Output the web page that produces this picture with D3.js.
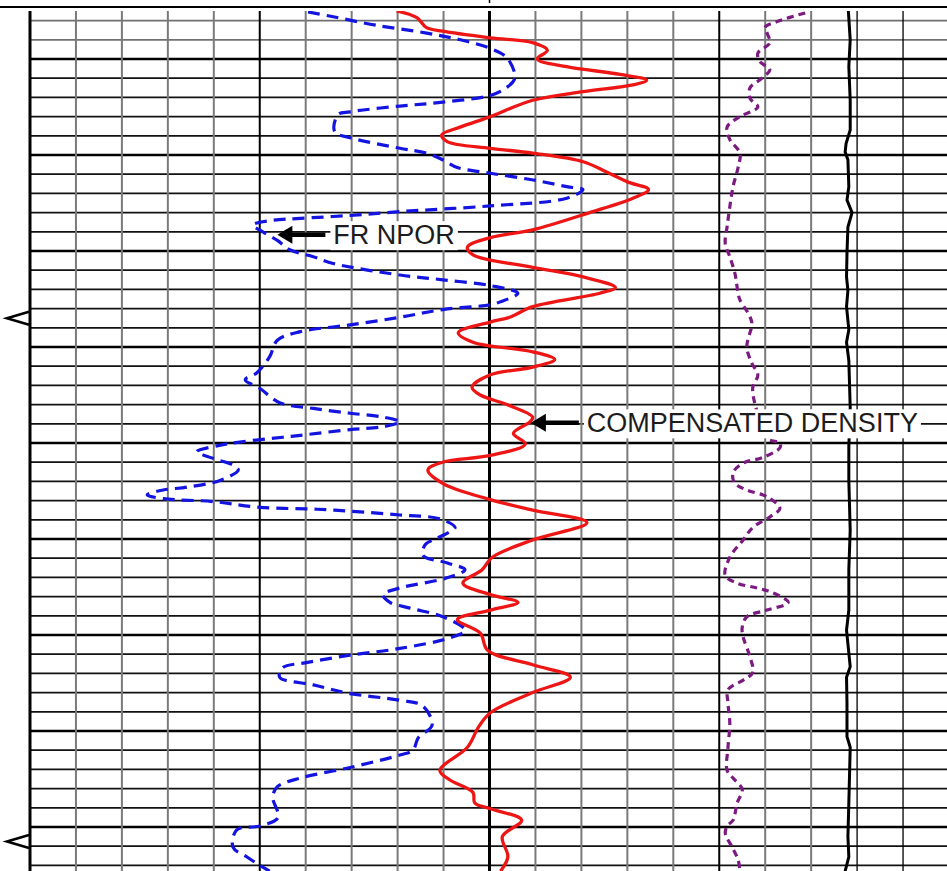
<!DOCTYPE html>
<html lang="en">
  <head>
    <meta charset="utf-8">
    <title>Log section - FR NPOR / Compensated density</title>
    <style>
      body {
        margin: 0;
        background: #fff;
        font-family: "Liberation Sans", Arial, Helvetica, sans-serif;
      }
      svg { display: block; }
    </style>
  </head>
  <body>
    <div class="graph"></div>

    <script src="https://d3js.org/d3.v7.min.js"></script>
    <script>
      // depth (ft), value pairs
      var nporCurve = [
        [4995.1, 8.7], [4995.6, 5.4], [4996.5, -0.3], [4997.3, -6.8], [4998.0, -11.2], [4998.9, -15.1],
        [4999.9, -17.3], [5002.0, -18.3], [5003.2, -16.8], [5003.8, -15.1], [5004.5, -8.9], [5004.9, -3.3],
        [5005.5, 3.2], [5005.8, 4.8], [5007.6, 5.2], [5008.2, 3.2], [5009.3, -3.3], [5009.8, -6.8],
        [5010.5, -8.9], [5011.3, -10.8], [5011.9, -15.1], [5012.6, -20.7], [5013.3, -25.1], [5013.6, -27.2],
        [5014.5, -25.1], [5015.3, -15.1], [5015.9, -3.3], [5016.3, 3.2], [5016.6, 9.7], [5016.8, 13.3],
        [5017.3, 15.9], [5018.0, 14.6], [5018.9, 12.7], [5019.9, 11.0], [5020.6, 8.0], [5021.3, 5.4],
        [5022.5, -3.3], [5023.0, -8.9], [5023.6, -15.1], [5024.4, -18.7], [5025.3, -16.4], [5025.6, -15.1],
        [5026.1, -8.9], [5026.9, -3.3], [5027.7, 3.2], [5028.4, 9.7], [5029.3, 12.7], [5031.0, 13.7],
        [5032.7, 15.4], [5033.4, 16.9], [5034.3, 15.0], [5035.8, 12.4], [5036.4, 8.0], [5036.9, 3.2],
        [5037.3, -1.1], [5037.8, -3.3], [5038.3, -1.1], [5038.6, 3.2], [5039.2, 9.7], [5039.4, 12.0],
        [5039.9, 17.6], [5040.3, 20.6], [5040.9, 23.2], [5041.6, 21.1], [5042.3, 18.5], [5042.8, 17.8],
        [5043.9, 20.2], [5044.6, 24.5], [5044.9, 27.6], [5045.4, 29.7], [5045.8, 27.6], [5046.1, 21.1],
        [5046.7, 15.0], [5046.9, 7.5], [5047.1, 3.2], [5047.5, -3.3], [5047.9, -8.5], [5048.8, -10.5],
        [5049.4, -9.5], [5050.1, -7.6], [5050.6, -6.6], [5051.7, -6.3], [5052.5, -9.5], [5053.2, -11.8],
        [5054.1, -9.2], [5055.1, -3.3], [5055.8, -1.1], [5056.6, -2.0], [5057.2, -4.6], [5058.1, -8.9],
        [5059.5, -11.8], [5060.3, -9.8], [5061.4, -3.3], [5062.1, 3.2], [5062.9, 9.1], [5063.4, 12.0],
        [5064.4, 12.4], [5065.2, 8.0], [5066.1, 3.2], [5066.8, -3.3], [5067.4, -6.3], [5069.4, -7.5],
        [5070.7, -5.7], [5072.0, -5.0], [5072.5, -3.3], [5073.8, 3.2], [5074.9, 9.7], [5075.8, 12.7],
        [5076.9, 13.3], [5079.0, 12.6], [5079.9, 15.0], [5080.3, 18.0], [5082.1, 18.5], [5083.1, 16.7],
        [5084.0, 15.0], [5084.6, 13.7]
      ];

      var rhobCurve = [
        [4995.0, 2.049], [4995.7, 2.071], [4996.7, 2.081], [4997.1, 2.099], [4997.8, 2.151], [4998.3, 2.197],
        [4999.1, 2.213], [5000.0, 2.202], [5000.8, 2.234], [5001.6, 2.292], [5002.2, 2.321], [5002.7, 2.306],
        [5003.4, 2.252], [5004.3, 2.197], [5006.0, 2.151], [5007.1, 2.118], [5007.9, 2.098], [5008.6, 2.104],
        [5009.3, 2.151], [5009.8, 2.197], [5010.7, 2.252], [5011.8, 2.278], [5012.8, 2.300], [5013.6, 2.323],
        [5014.5, 2.306], [5016.0, 2.259], [5017.8, 2.197], [5018.6, 2.151], [5019.6, 2.126], [5020.4, 2.132],
        [5021.7, 2.197], [5022.7, 2.252], [5023.8, 2.287], [5024.4, 2.270], [5025.8, 2.197], [5026.9, 2.172],
        [5027.4, 2.151], [5028.5, 2.116], [5029.5, 2.132], [5030.5, 2.197], [5031.3, 2.221], [5032.1, 2.197],
        [5032.9, 2.151], [5034.2, 2.131], [5035.0, 2.140], [5036.0, 2.169], [5037.3, 2.197], [5037.8, 2.194],
        [5039.0, 2.176], [5040.1, 2.189], [5041.3, 2.151], [5042.0, 2.099], [5042.8, 2.083], [5044.2, 2.099],
        [5045.9, 2.151], [5047.0, 2.197], [5048.3, 2.256], [5050.1, 2.197], [5051.9, 2.153], [5053.2, 2.142],
        [5054.6, 2.121], [5055.8, 2.151], [5056.6, 2.181], [5057.4, 2.151], [5058.4, 2.115], [5059.8, 2.140],
        [5061.6, 2.148], [5063.1, 2.197], [5064.4, 2.238], [5066.0, 2.197], [5068.1, 2.151], [5069.6, 2.138],
        [5071.7, 2.126], [5074.1, 2.096], [5075.1, 2.107], [5076.4, 2.132], [5077.5, 2.134], [5078.1, 2.151],
        [5079.3, 2.185], [5081.0, 2.164], [5083.1, 2.170], [5084.6, 2.162]
      ];

      var pefCurve = [
        [4995.2, 6.87], [4996.1, 6.26], [4996.7, 6.00], [4997.3, 6.04], [4998.3, 6.10], [4999.4, 5.84],
        [5000.3, 5.89], [5001.1, 6.10], [5002.0, 5.93], [5003.0, 5.67], [5004.1, 5.67], [5005.0, 5.84],
        [5006.0, 5.45], [5007.1, 5.17], [5008.4, 5.23], [5009.8, 5.45], [5011.3, 5.41], [5013.3, 5.30],
        [5015.4, 5.23], [5017.5, 5.17], [5019.2, 5.13], [5020.6, 5.23], [5022.3, 5.34], [5024.4, 5.41],
        [5025.1, 5.45], [5026.5, 5.63], [5027.5, 5.71], [5030.0, 5.60], [5031.7, 5.71], [5032.9, 5.84],
        [5034.2, 5.73], [5036.0, 5.78], [5038.1, 5.93], [5039.6, 6.06], [5040.0, 6.32], [5040.5, 6.32],
        [5041.5, 5.95], [5042.1, 5.52], [5043.1, 5.30], [5044.2, 5.34], [5044.9, 5.60], [5045.6, 6.04],
        [5046.8, 6.32], [5047.7, 6.10], [5048.8, 5.73], [5050.1, 5.52], [5051.9, 5.23], [5053.8, 5.13],
        [5054.6, 5.39], [5055.1, 5.82], [5055.6, 6.17], [5056.6, 6.50], [5057.4, 6.04], [5058.1, 5.60],
        [5059.2, 5.50], [5060.2, 5.52], [5062.3, 5.67], [5063.9, 5.73], [5064.7, 5.52], [5065.7, 5.19],
        [5067.1, 5.19], [5069.2, 5.23], [5071.7, 5.19], [5074.1, 5.17], [5074.9, 5.30], [5076.1, 5.50],
        [5077.5, 5.39], [5079.3, 5.30], [5079.8, 5.19], [5080.6, 5.13], [5082.1, 5.28], [5083.4, 5.41],
        [5084.6, 5.45]
      ];

      var caliCurve = [
        [4995.0, 13.81], [4998.0, 13.85], [5000.8, 13.82], [5004.3, 13.85], [5007.4, 13.85], [5008.8, 13.76],
        [5009.7, 13.74], [5010.5, 13.80], [5013.3, 13.82], [5014.7, 13.78], [5016.0, 13.89], [5017.5, 13.80],
        [5020.2, 13.78], [5022.7, 13.77], [5024.1, 13.80], [5025.8, 13.77], [5028.2, 13.82], [5029.5, 13.77],
        [5031.4, 13.82], [5036.3, 13.85], [5040.4, 13.82], [5043.9, 13.82], [5049.1, 13.85], [5053.2, 13.82],
        [5057.4, 13.82], [5059.5, 13.77], [5063.3, 13.85], [5064.4, 13.77], [5067.1, 13.78], [5070.6, 13.78],
        [5071.7, 13.85], [5077.5, 13.82], [5081.0, 13.80], [5083.1, 13.82], [5084.6, 13.74]
      ];

      var labelText = ['FR NPOR', 'COMPENSATED DENSITY'];
      var labelCurve = ['npor', 'rhob'];
      var labelDepth = [5018.3, 5037.9];
      var labelValue = [12.7, 2.195];

      var markerDepth = [5027.0, 5081.5];

      var width = 947, height = 871;

      var depth = d3.scaleLinear().domain([5000, 5080]).range([59, 827]);
      var gridX = d3.scaleLinear().domain([0, 20]).range([30, 949]);
      var npor = d3.scaleLinear().domain([45, -15]).range([30, 489.5]);
      var rhob = d3.scaleLinear().domain([1.65, 2.65]).range([30, 949]);
      var pef = d3.scaleLinear().domain([0, 10]).range([489.5, 949]);
      var cali = d3.scaleLinear().domain([6, 16]).range([489.5, 949]);
      var scales = { npor: npor, rhob: rhob };

      var gridTop = 11;

      var svg = d3.select('.graph')
                  .append('svg')
                  .attr('width', width)
                  .attr('height', height);

      // top border + small tick
      svg.append('line')
         .attr('x1', 0).attr('x2', width)
         .attr('y1', 7).attr('y2', 7)
         .attr('stroke', '#000').attr('stroke-width', 2);
      svg.append('line')
         .attr('x1', gridX(10)).attr('x2', gridX(10))
         .attr('y1', 0).attr('y2', 3)
         .attr('stroke', '#000').attr('stroke-width', 1.5);

      // horizontal grid, every 2 ft
      var hLines = d3.range(4996, 5085, 2);
      svg.append('g')
         .selectAll('line')
         .data(hLines)
         .enter()
         .append('line')
         .attr('x1', gridX(0)).attr('x2', width)
         .attr('y1', function(d) { return depth(d); })
         .attr('y2', function(d) { return depth(d); })
         .attr('stroke', function(d) {
           if (d % 10 === 0) return '#000';
           return d < 5000 ? '#707070' : '#111';
         })
         .attr('stroke-width', function(d) { return d % 10 === 0 ? 2.6 : 1.7; });

      // vertical grid, 20 divisions
      var vLines = d3.range(0, 20);
      svg.append('g')
         .selectAll('line')
         .data(vLines)
         .enter()
         .append('line')
         .attr('x1', function(i) { return gridX(i); })
         .attr('x2', function(i) { return gridX(i); })
         .attr('y1', gridTop).attr('y2', height)
         .attr('stroke', function(i) {
           if (i === 0 || i % 5 === 0 || i >= 18) return '#000';
           return '#7a7a7a';
         })
         .attr('stroke-width', function(i) {
           if (i === 0 || i === 10) return 3;
           if (i === 5 || i === 15) return 2;
           if (i >= 18) return 1.3;
           return 2;
         });

      // depth markers at the left edge
      svg.append('g')
         .selectAll('path')
         .data(markerDepth)
         .enter()
         .append('path')
         .attr('d', function(d) {
           var y = depth(d);
           return 'M29,' + (y - 6.5) + 'L7,' + y + 'L29,' + (y + 6.5);
         })
         .attr('fill', 'none')
         .attr('stroke', '#000')
         .attr('stroke-width', 2.6);

      svg.append('clipPath').attr('id', 'plot')
         .append('rect')
         .attr('x', gridX(0)).attr('y', gridTop)
         .attr('width', width - gridX(0)).attr('height', height - gridTop);

      var curves = svg.append('g').attr('clip-path', 'url(#plot)');

      function logLine(scale, curve) {
        return d3.line()
                 .x(function(d) { return scale(d[1]); })
                 .y(function(d) { return depth(d[0]); })
                 .curve(curve);
      }

      curves.append('path')
            .attr('d', logLine(cali, d3.curveLinear)(caliCurve))
            .attr('fill', 'none')
            .attr('stroke', '#000')
            .attr('stroke-width', 3);

      curves.append('path')
            .attr('d', logLine(pef, d3.curveCatmullRom.alpha(0.5))(pefCurve))
            .attr('fill', 'none')
            .attr('stroke', '#7b1a80')
            .attr('stroke-width', 3.2)
            .attr('stroke-dasharray', '7,5');

      curves.append('path')
            .attr('d', logLine(npor, d3.curveCatmullRom.alpha(0.5))(nporCurve))
            .attr('fill', 'none')
            .attr('stroke', '#1414e0')
            .attr('stroke-width', 3.2)
            .attr('stroke-dasharray', '12,7');

      curves.append('path')
            .attr('d', logLine(rhob, d3.curveCatmullRom.alpha(0.5))(rhobCurve))
            .attr('fill', 'none')
            .attr('stroke', '#ee1515')
            .attr('stroke-width', 3.3);

      // arrow labels
      labelText.forEach(function(text, i) {
        var tx = scales[labelCurve[i]](labelValue[i]);
        var ty = depth(labelDepth[i]);
        var g = svg.append('g');

        var bg = g.append('rect').attr('fill', '#fff');
        var label = g.append('text')
                     .attr('x', tx + 56)
                     .attr('y', ty + 9.5)
                     .attr('font-size', 27)
                     .attr('fill', '#1c1c1c')
                     .text(text);
        var box = label.node().getBBox();
        bg.attr('x', box.x - 3).attr('y', box.y + 1)
          .attr('width', box.width + 6).attr('height', box.height - 1);

        g.append('line')
         .attr('x1', tx + 12).attr('x2', tx + 48)
         .attr('y1', ty).attr('y2', ty)
         .attr('stroke', '#000').attr('stroke-width', 4.5);
        g.append('path')
         .attr('d', 'M' + tx + ',' + ty + 'L' + (tx + 15) + ',' + (ty - 9) + 'L' + (tx + 15) + ',' + (ty + 9) + 'Z')
         .attr('fill', '#000');
      });
    </script>
  </body>
</html>
